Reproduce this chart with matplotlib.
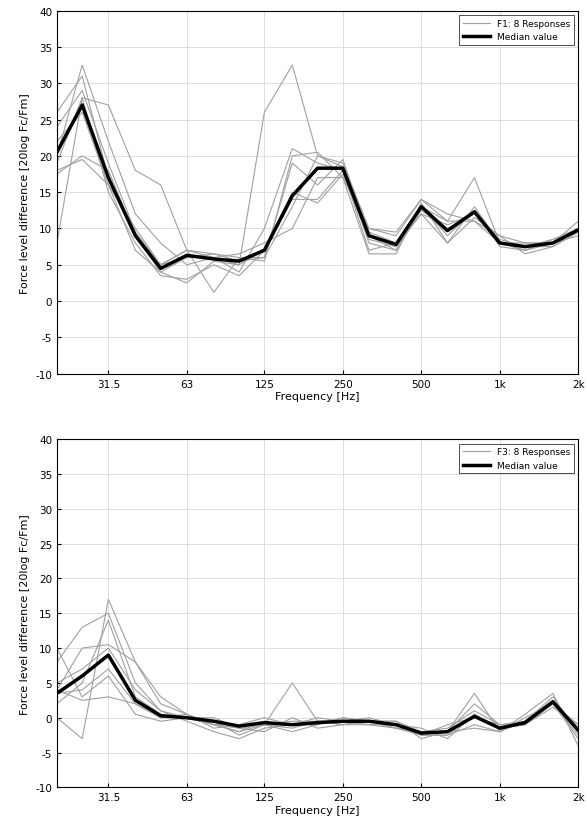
import numpy as np
import matplotlib.pyplot as plt

plt.rcParams["axes.unicode_minus"] = False

freqs = [20, 25, 31.5, 40, 50, 63, 80, 100, 125, 160, 200, 250, 315, 400, 500, 630, 800, 1000, 1250, 1600, 2000]
tick_freqs = [31.5, 63, 125, 250, 500, 1000, 2000]
tick_labels = ["31.5", "63", "125", "250", "500", "1k", "2k"]

f1_median = [20.5, 27, 17, 9, 4.5, 6.3, 5.8, 5.5, 7, 14.5, 18.3, 18.3, 9, 7.8, 13, 9.7, 12.3, 8, 7.5, 8, 9.8]
f1_responses = [
    [8, 28, 27, 18, 16, 7, 6, 5, 26, 32.5, 20, 19, 10, 9, 14, 12, 11, 9, 8, 8, 11],
    [17.5, 20, 18, 9, 5, 7, 1.2, 6, 6, 13, 20, 18.5, 8, 7, 13, 11, 17, 8, 7, 8, 10],
    [20, 32.5, 22, 12, 8, 5, 6, 4, 10, 21, 19, 18, 7, 8, 12, 8, 13, 8, 7.5, 8.5, 9.5],
    [26, 31, 17, 9, 4, 6, 6.5, 5.5, 6, 19, 16, 19.5, 9, 7, 12.5, 10, 12, 8.5, 7.5, 7.5, 9.5],
    [19, 28, 15, 8, 3.5, 3, 5, 3.5, 7, 14, 14, 18, 9.5, 8, 13, 9, 12.5, 7.5, 7, 8, 10],
    [18, 19.5, 16, 10, 5, 6, 6, 6.5, 8, 10, 17, 17, 10, 9.5, 14, 11, 11, 8, 7, 8.5, 10],
    [22, 26, 16, 7, 4, 2.5, 5.5, 5, 7, 15, 13.5, 17.5, 8.5, 7.5, 12, 10.5, 12, 8, 8, 8, 9],
    [24, 29, 19, 9.5, 5, 7, 6.5, 6, 5.5, 20, 20.5, 17, 6.5, 6.5, 13.5, 8, 11.5, 9, 6.5, 7.5, 9.5],
]

f3_median = [3.5, 6, 9, 2.5, 0.3, 0, -0.5, -1.2, -0.7, -1, -0.7, -0.5, -0.5, -1, -2.2, -2, 0.2, -1.5, -0.7, 2.3, -1.8]
f3_responses = [
    [0, -3, 17, 8, 2, 0.5, -1, -2, -1, 5, -0.5, -1, -0.5, -0.5, -3, -2, 3.5, -2, 0.5, 3.5, -4],
    [8, 13, 15, 5, 1, 0, -0.5, -2.5, -1, -2, -1, 0, -0.5, -1.5, -2, -1.5, 1, -1, -1, 2, -1],
    [4, 10, 10.5, 8, 3, 0.5, -1.5, -1, 0, -1, -0.5, -0.5, 0, -1, -2.5, -2.5, -1, -2, -0.5, 3, -2],
    [10, 3, 6, 0.5, -0.5, 0, 0, -1.5, -2, 0, -1.5, -1, -0.5, -1, -1.5, -3, 0.5, -1.5, -1, 2, -3],
    [2, 5, 14, 3, 0.5, 0, -1, -2, -0.5, -1, 0, -0.5, -1, -1, -2.5, -1, 0, -1, -0.5, 2.5, -1.5],
    [3.5, 4, 7, 2, 0, 0.5, -1, -1, -1, -1.5, -0.5, -0.5, -0.5, -1.5, -2, -2, 2, -1, -1, 1.5, -1],
    [5, 7, 10, 4, 1, -0.5, -2, -3, -1.5, -1, -1, 0, -0.5, -0.5, -2, -2, -1.5, -2, 0, 2, -2.5],
    [4, 2.5, 3, 2, 0, 0, -1, -1.5, -1, -0.5, -0.5, -1, -1, -1.5, -2.5, -2.5, 0.5, -1.5, -1, 2, -1.5],
]

fig = plt.figure(figsize=(5.87, 8.29), dpi=100)

def draw_panel(rect, responses, median, label):
    ax = fig.add_axes(rect)
    for i, r in enumerate(responses):
        ax.plot(freqs, r, color="#a0a0a0", lw=0.8, label=label if i == 0 else None)
    ax.plot(freqs, median, color="black", lw=2.5, label="Median value")
    ax.set_xscale("log")
    ax.set_xlim(20, 2000)
    ax.set_ylim(-10, 40)
    ax.set_xticks(tick_freqs)
    ax.set_xticklabels(tick_labels)
    ax.minorticks_off()
    ax.set_yticks(range(-10, 41, 5))
    ax.grid(True, color="#dddddd", lw=0.7)
    ax.tick_params(labelsize=7.5, direction="in", length=3)
    ax.set_xlabel("Frequency [Hz]", fontsize=8, labelpad=2)
    ax.set_ylabel("Force level difference [20log Fc/Fm]", fontsize=8)
    leg = ax.legend(loc="upper right", fontsize=6.5, frameon=True, fancybox=False,
                    edgecolor="black", handlelength=3)
    leg.get_frame().set_linewidth(0.6)
    return ax

draw_panel([0.097, 0.548, 0.888, 0.438], f1_responses, f1_median, "F1: 8 Responses")
draw_panel([0.097, 0.049, 0.888, 0.42], f3_responses, f3_median, "F3: 8 Responses")

fig.savefig("out.png", dpi=100)
